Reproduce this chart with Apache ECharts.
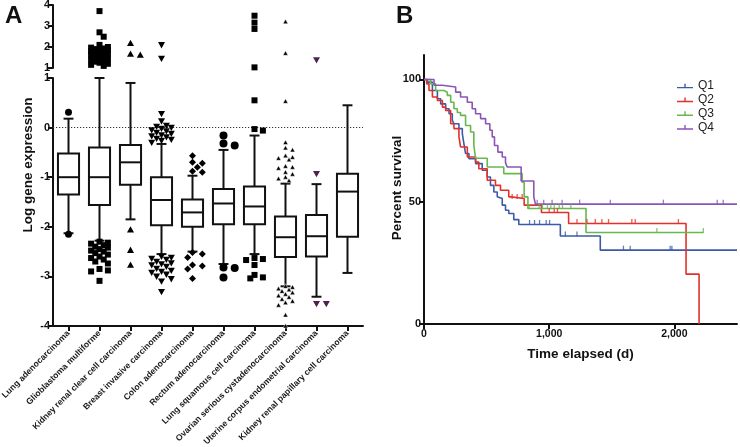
<!DOCTYPE html>
<html><head><meta charset="utf-8">
<script src="https://cdn.jsdelivr.net/npm/echarts@6/dist/echarts.min.js"></script>
<style>html,body{margin:0;padding:0;background:#fff}#c{width:740px;height:447px}</style>
</head><body><div id="c"></div>
<script>
// ---------- Panel A data ----------
const categories = ['Lung adenocarcinoma','Glioblastoma multiforme','Kidney renal clear cell carcinoma','Breast invasive carcinoma','Colon adenocarcinoma','Rectum adenocarcinoma','Lung squamous cell carcinoma','Ovarian serious cystadenocarcinoma','Uterine corpus endometrial carcinoma','Kidney renal papillary cell carcinoma'];
const boxMin = [-2.13, -2.28, -1.85, -2.55, -2.50, -2.75, -2.55, -3.20, -3.41, -2.93];
const boxQ1  = [-1.35, -1.56, -1.15, -1.97, -2.00, -1.95, -1.95, -2.61, -2.60, -2.20];
const boxMed = [-1.00, -1.00, -0.70, -1.46, -1.71, -1.53, -1.59, -2.21, -2.19, -1.29];
const boxQ3  = [-0.52, -0.40, -0.35, -1.00, -1.45, -1.24, -1.19, -1.79, -1.76, -0.93];
const boxMax = [0.18, 1.00, 0.90, -0.33, -0.97, -0.45, -0.16, -1.13, -1.14, 0.45];

const outLungAdeno = [0.31, -2.15];
const outGlio = [3.71, 2.7, 2.49, 2.1, 2.0, 1.97, 1.93, 1.9, 1.87, 1.84, 1.8, 1.77, 1.74, 1.7, 1.67, 1.63, 1.6, 1.55, 1.5, 1.45, 1.4, 1.35, 1.3, 1.25, 1.2, 1.15, 1.1,
  -2.3, -2.32, -2.34, -2.37, -2.4, -2.42, -2.45, -2.48, -2.5, -2.53, -2.56, -2.6, -2.63, -2.66, -2.7, -2.74, -2.85, -2.88, -2.9, -3.09];
const outKidneyClear = [2.18, 1.67, 1.62, -2.06, -2.47, -2.77];
const outBreast = [2.1, 1.45, 0.28, 0.13, 0.04, 0.02, 0.0, -0.02, -0.05, -0.07, -0.1, -0.12, -0.15, -0.17, -0.19, -0.22, -0.24, -0.26, -0.3,
  -2.6, -2.62, -2.64, -2.66, -2.7, -2.73, -2.75, -2.77, -2.8, -2.84, -2.88, -2.9, -2.92, -2.96, -3.0, -3.05, -3.1, -3.31];
const outColon = [-0.57, -0.70, -0.72, -0.80, -0.88, -0.90, -2.52, -2.55, -2.62, -2.77, -2.79, -2.85, -3.04];
const outRectum = [-0.16, -0.32, -0.36, -2.82, -2.83, -3.02];
const outLungSq = [3.49, 3.16, 2.86, 1.03, 0.55, -0.03, -0.06, -2.63, -2.65, -2.67, -2.77, -2.97, -3.02, -3.04];
const outOvarian = [3.2, 1.7, 0.53, -0.30, -0.41, -0.45, -0.57, -0.60, -0.62, -0.65, -0.78, -0.80, -0.82, -0.90, -0.94, -1.0, -1.03, -1.07,
  -3.2, -3.22, -3.25, -3.27, -3.3, -3.33, -3.36, -3.39, -3.42, -3.46, -3.5, -3.53, -3.58, -3.78, -4.0];
const outUterine = [1.38, -0.93, -3.55, -3.55];
const outKidneyPap = [];
const outlierLists = [outLungAdeno, outGlio, outKidneyClear, outBreast, outColon, outRectum, outLungSq, outOvarian, outUterine, outKidneyPap];

// ---------- Panel B data ----------
const kmQ1Time = [0, 27, 67, 107, 133, 173, 200, 226, 239, 279, 306, 319, 332, 359, 412, 465, 505, 531, 558, 585, 597, 625, 651, 677, 717, 757, 1089, 1408, 2500];
const kmQ1Surv = [100, 98.9, 95.5, 92.1, 90, 88, 86, 83.3, 81.9, 79.9, 77.8, 73.7, 69.7, 67.6, 65.6, 62.9, 60.1, 56.7, 54, 52, 51.3, 48.6, 46.5, 45.2, 42.7, 40.7, 36.0, 30.2, 30.2];
const kmQ2Time = [0, 21, 40, 67, 107, 147, 173, 213, 239, 279, 292, 346, 412, 438, 505, 571, 611, 677, 696, 800, 938, 1155, 2093, 2197];
const kmQ2Surv = [100, 98.2, 95.5, 92.8, 91.4, 88.7, 87.3, 81.9, 79.9, 76.5, 72.4, 68.3, 66.2, 63.5, 58.8, 56.7, 54.7, 52, 51.3, 48.6, 45.6, 41.1, 20.4, 0];
const kmQ3Time = [0, 53, 93, 160, 186, 213, 239, 266, 292, 332, 372, 398, 412, 505, 637, 784, 800, 830, 1294, 2231];
const kmQ3Surv = [100, 98.2, 95.5, 94.8, 93.5, 90.7, 88, 86.5, 85.3, 81.2, 78.5, 73, 67.8, 64.2, 61.5, 58, 52, 47.2, 37.4, 37.4];
const kmQ4Time = [0, 80, 146, 253, 292, 346, 385, 412, 452, 492, 526, 545, 563, 590, 625, 651, 664, 776, 877, 890, 2500];
const kmQ4Surv = [100, 97.6, 96.9, 94.8, 92.8, 90.7, 88, 86, 84, 81.9, 79.2, 76.5, 73, 70.3, 68.3, 66, 64.2, 58.5, 52, 49, 49];
const censQ1 = [843, 883, 923, 976, 1003, 1129, 1222, 1593, 1647, 1966, 1980];
const censQ2 = [704, 744, 784, 1000, 1040, 1066, 1222, 1302, 1368, 1421, 1474, 1660, 1687, 2032];
const censQ3 = [840, 920, 946, 986, 1013, 1040, 1080, 1106, 1173, 1860, 2231];
const censQ4 = [904, 956, 1023, 1103, 1243, 1488, 1912, 2342, 2390];
const groupNames = ['Q1', 'Q2', 'Q3', 'Q4'];
const xTicksB = [0, 1000, 2000];
const yTicksB = [0, 50, 100];

// ---------- styles ----------
const FONT = "'Liberation Sans', Arial, Helvetica, sans-serif";
const groupColors = ['#3c5aa8', '#e2312a', '#67b84e', '#8a56b6'];
const outShape = ['circle', 'rect', 'triangle', 'triangleDown', 'diamond', 'circle', 'rect', 'triangle', 'triangleDown', 'circle'];
const outSize = [7, 6, 7, 7, 7, 8, 6, 5, 7, 6];
const outColor = ['#000', '#000', '#000', '#000', '#000', '#000', '#000', '#000', '#4e2250', '#000'];

function renderBox(params, api) {
  const i = api.value(0);
  const cw = api.size([1, 0])[0];
  const bw = cw * 0.68, capW = cw * 0.32;
  const cx = api.coord([i, 0])[0];
  const y = k => api.coord([i, api.value(k)])[1];
  const yMin = y(1), yQ1 = y(2), yMed = y(3), yQ3 = y(4), yMax = y(5);
  const st = { stroke: '#111', lineWidth: 2, fill: null };
  return { type: 'group', children: [
    { type: 'line', shape: { x1: cx, y1: yQ1, x2: cx, y2: yMin }, style: st },
    { type: 'line', shape: { x1: cx, y1: yQ3, x2: cx, y2: yMax }, style: st },
    { type: 'line', shape: { x1: cx - capW / 2, y1: yMin, x2: cx + capW / 2, y2: yMin }, style: st },
    { type: 'line', shape: { x1: cx - capW / 2, y1: yMax, x2: cx + capW / 2, y2: yMax }, style: st },
    { type: 'rect', shape: { x: cx - bw / 2, y: yQ3, width: bw, height: yQ1 - yQ3 }, style: { fill: '#fff', stroke: '#111', lineWidth: 2 } },
    { type: 'line', shape: { x1: cx - bw / 2, y1: yMed, x2: cx + bw / 2, y2: yMed }, style: st }
  ]};
}

function swarm(points, api) {
  const placed = {}; const res = [];
  points.forEach(p => {
    const c = p[0], v = p[1];
    const pt = api.coord([c, v]);
    const s = outSize[c];
    const d = s * 0.7;
    const cands = [0, d, -d, 2 * d, -2 * d];
    const list = placed[c] || (placed[c] = []);
    let best = 0, bestDist = -1;
    for (const o of cands) {
      let md = Infinity;
      for (const q of list) { const dd = Math.hypot(pt[0] + o - q[0], pt[1] - q[1]); if (dd < md) md = dd; }
      if (md >= s * 0.9) { best = o; bestDist = md; break; }
      if (md > bestDist) { bestDist = md; best = o; }
    }
    list.push([pt[0] + best, pt[1]]);
    res.push([pt[0] + best, pt[1]]);
  });
  return res;
}

function symbolEl(shape, cx, cy, s, color) {
  const h = s / 2;
  const style = { fill: color, stroke: shape === 'triangle' && s < 6 ? '#fff' : null, lineWidth: 0.5 };
  if (shape === 'circle') return { type: 'circle', shape: { cx: cx, cy: cy, r: h }, style: style };
  if (shape === 'rect') return { type: 'rect', shape: { x: cx - h, y: cy - h, width: s, height: s }, style: style };
  let pts;
  if (shape === 'triangle') pts = [[cx, cy - h], [cx + h, cy + h * 0.8], [cx - h, cy + h * 0.8]];
  else if (shape === 'triangleDown') pts = [[cx - h, cy - h * 0.8], [cx + h, cy - h * 0.8], [cx, cy + h]];
  else pts = [[cx, cy - h], [cx + h, cy], [cx, cy + h], [cx - h, cy]];
  return { type: 'polygon', shape: { points: pts }, style: style };
}

function outlierSeries(gridIdx, filterFn) {
  const pts = [];
  outlierLists.forEach((arr, c) => arr.forEach(v => { if (filterFn(v)) pts.push([c, v]); }));
  let cache = null;
  return {
    type: 'custom', xAxisIndex: gridIdx, yAxisIndex: gridIdx, data: pts, z: 5,
    encode: { x: 0, y: 1 },
    renderItem: function (params, api) {
      if (params.dataIndex === 0 || !cache) cache = swarm(pts, api);
      const c = pts[params.dataIndex][0];
      const p = cache[params.dataIndex];
      return symbolEl(outShape[c], p[0], p[1], outSize[c], outColor[c]);
    }
  };
}

function survAt(times, surv, t) {
  let s = surv[0];
  for (let i = 0; i < times.length; i++) { if (times[i] <= t) s = surv[i]; }
  return s;
}

const kmTimes = [kmQ1Time, kmQ2Time, kmQ3Time, kmQ4Time];
const kmSurvs = [kmQ1Surv, kmQ2Surv, kmQ3Surv, kmQ4Surv];
const kmCens = [censQ1, censQ2, censQ3, censQ4];

const axisLabelBold = { color: '#111', fontFamily: FONT, fontWeight: 'bold', fontSize: 11 };
const axLine = { show: true, onZero: false, lineStyle: { color: '#111', width: 2 } };
const axTick = { show: true, length: 5, lineStyle: { color: '#111', width: 2 } };

const series = [];
series.push({
  type: 'custom', xAxisIndex: 1, yAxisIndex: 1, z: 3,
  data: categories.map((c, i) => [i, boxMin[i], boxQ1[i], boxMed[i], boxQ3[i], boxMax[i]]),
  encode: { x: 0, y: [1, 2, 3, 4, 5] },
  renderItem: renderBox,
  markLine: { silent: true, symbol: 'none', label: { show: false }, lineStyle: { color: '#333', type: [1.2, 1.8], width: 1.1 }, data: [{ yAxis: 0 }], z: 1 }
});
series.push(outlierSeries(0, v => v > 1));
series.push(outlierSeries(1, v => v <= 1));
groupNames.forEach((g, k) => {
  series.push({
    name: g, type: 'line', xAxisIndex: 2, yAxisIndex: 2, step: 'end', showSymbol: false, symbol: 'none',
    color: groupColors[k], lineStyle: { width: 1.6, color: groupColors[k] },
    data: kmTimes[k].map((t, i) => [t, kmSurvs[k][i]]), z: 3
  });
  series.push({
    type: 'scatter', xAxisIndex: 2, yAxisIndex: 2, symbol: 'rect', symbolSize: [1.3, 5], symbolOffset: [0, -2],
    itemStyle: { color: groupColors[k] }, z: 4,
    data: kmCens[k].map(t => [t, survAt(kmTimes[k], kmSurvs[k], t)])
  });
});

const chart = echarts.init(document.getElementById('c'));
chart.setOption({
  animation: false,
  backgroundColor: '#fff',
  textStyle: { fontFamily: FONT },
  grid: [
    { left: 53, top: 5, width: 310, height: 63, outerBoundsMode: 'none' },
    { left: 53, top: 78, width: 310, height: 248, outerBoundsMode: 'none' },
    { left: 424, top: 55, width: 313, height: 269, outerBoundsMode: 'none' }
  ],
  xAxis: [
    { type: 'category', gridIndex: 0, data: categories, show: false, axisLine: { onZero: false } },
    { type: 'category', gridIndex: 1, data: categories, axisLine: axLine,
      axisTick: { show: true, alignWithLabel: true, length: 5, lineStyle: { color: '#111', width: 2 } },
      axisLabel: { interval: 0, rotate: 45, margin: 6, color: '#1a1a1a', fontFamily: FONT, fontWeight: 'bold', fontSize: 8.6 } },
    { type: 'value', gridIndex: 2, min: 0, max: 2500, axisLine: axLine,
      axisTick: Object.assign({ customValues: xTicksB }, axTick), splitLine: { show: false },
      axisLabel: Object.assign({ customValues: xTicksB, margin: 5, formatter: v => v.toLocaleString('en-US') }, axisLabelBold, { fontSize: 10.5 }),
      name: 'Time elapsed (d)', nameLocation: 'middle', nameGap: 23,
      nameTextStyle: { color: '#111', fontFamily: FONT, fontWeight: 'bold', fontSize: 13.5 } }
  ],
  yAxis: [
    { type: 'value', gridIndex: 0, min: 1, max: 4, interval: 1, axisLine: axLine, axisTick: axTick, splitLine: { show: false },
      axisLabel: Object.assign({ margin: 3 }, axisLabelBold) },
    { type: 'value', gridIndex: 1, min: -4, max: 1, interval: 1, axisLine: axLine, axisTick: axTick, splitLine: { show: false },
      axisLabel: Object.assign({ margin: 3 }, axisLabelBold) },
    { type: 'value', gridIndex: 2, min: 0, max: 110, axisLine: axLine,
      axisTick: Object.assign({ customValues: yTicksB }, axTick), splitLine: { show: false },
      axisLabel: Object.assign({ customValues: yTicksB, margin: 3 }, axisLabelBold) }
  ],
  legend: {
    data: groupNames, orient: 'vertical', left: 677, top: 80, itemWidth: 16, itemHeight: 5, itemGap: 1.8,
    icon: 'path://M0,3.3h16v1.4h-16z M7.3,0h1.4v3.3h-1.4z',
    textStyle: { fontFamily: FONT, fontSize: 12, color: '#222' }, padding: 0
  },
  graphic: [
    { type: 'text', left: 5, top: 4, style: { text: 'A', font: "bold 24px 'Liberation Sans', Arial", fill: '#111' } },
    { type: 'text', left: 396, top: 4, style: { text: 'B', font: "bold 24px 'Liberation Sans', Arial", fill: '#111' } },
    { type: 'text', x: 28, y: 165, rotation: Math.PI / 2, style: { text: 'Log gene expression', font: "bold 13.5px 'Liberation Sans', Arial", fill: '#111', align: 'center', verticalAlign: 'middle' } },
    { type: 'text', x: 397, y: 188, rotation: Math.PI / 2, style: { text: 'Percent survival', font: "bold 13.5px 'Liberation Sans', Arial", fill: '#111', align: 'center', verticalAlign: 'middle' } }
  ],
  series: series
});
</script></body></html>
